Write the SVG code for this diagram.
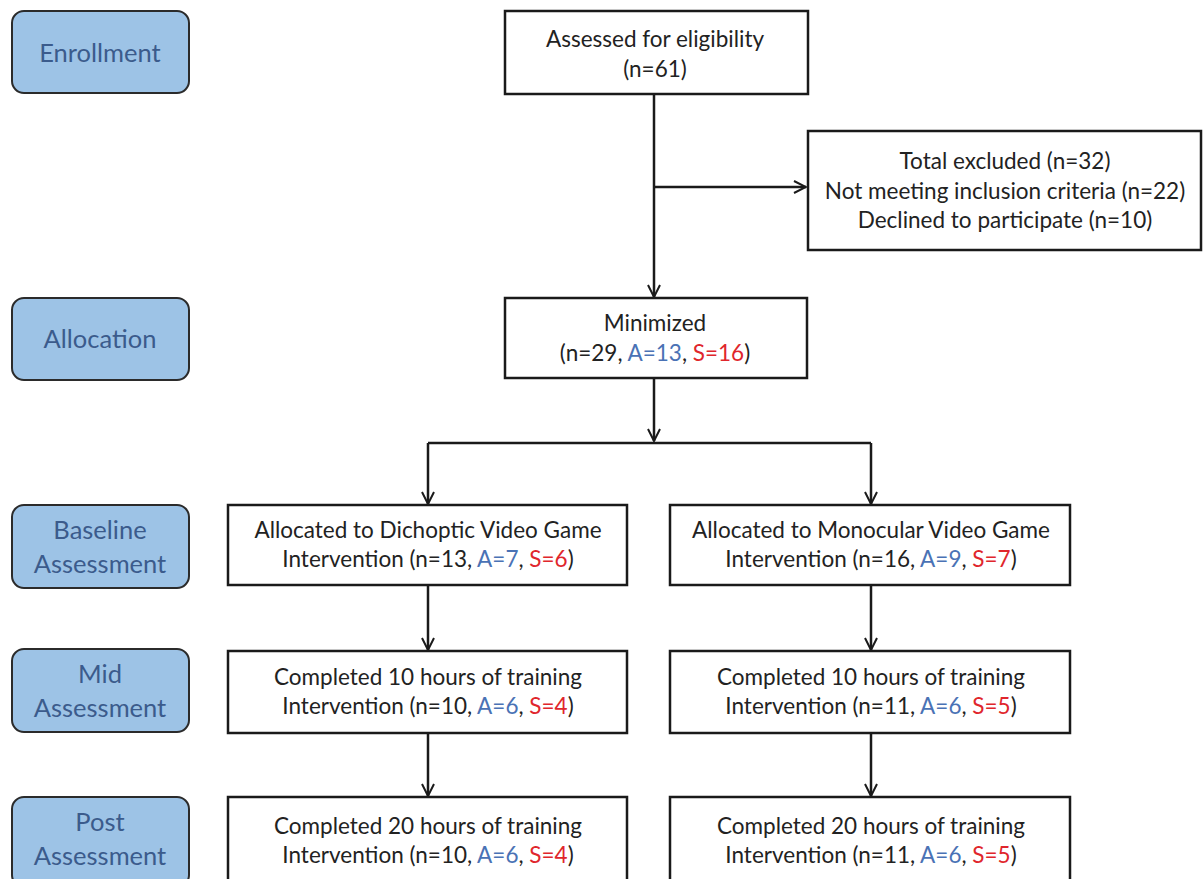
<svg xmlns="http://www.w3.org/2000/svg" width="1203" height="879" viewBox="0 0 1203 879">
<style>
.stage rect{fill:#9DC3E6;stroke:#2b2b2b;stroke-width:2}
.stage text{font-family:Lato,"Open Sans",sans-serif;font-size:25.5px;fill:#3B5B8C;text-anchor:middle}
.box rect{fill:#fff;stroke:#1a1a1a;stroke-width:2.5}
.box text{font-family:Lato,"Open Sans",sans-serif;font-size:22.5px;fill:#222;text-anchor:middle}
.a{fill:#4A72B5}
.s{fill:#E0262C}
.conn line,.conn path{stroke:#1a1a1a;stroke-width:2.5;fill:none}
</style>
<defs>
<marker id="arr" viewBox="0 0 14 14" refX="13" refY="7" markerWidth="14" markerHeight="14" markerUnits="userSpaceOnUse" orient="auto">
<path d="M1,1 L13,7 L1,13" fill="none" stroke="#1a1a1a" stroke-width="2"/>
</marker>
</defs>
<rect width="1203" height="879" fill="#fff"/>
<g id="stage-enrollment" class="stage"><rect x="12" y="11" width="177" height="82" rx="12"/><text x="100" y="62">Enrollment</text></g>
<g id="stage-allocation" class="stage"><rect x="12" y="298" width="177" height="82" rx="12"/><text x="100" y="348">Allocation</text></g>
<g id="stage-baseline" class="stage"><rect x="12" y="505" width="177" height="83" rx="12"/><text x="100" y="539">Baseline</text><text x="100" y="573">Assessment</text></g>
<g id="stage-mid" class="stage"><rect x="12" y="649" width="177" height="83" rx="12"/><text x="100" y="683">Mid</text><text x="100" y="717">Assessment</text></g>
<g id="stage-post" class="stage"><rect x="12" y="797" width="177" height="90" rx="12"/><text x="100" y="831">Post</text><text x="100" y="865">Assessment</text></g>

<g class="conn" id="connectors">
<line x1="654" y1="94" x2="654" y2="297" marker-end="url(#arr)"/>
<line x1="654" y1="187" x2="806" y2="187" marker-end="url(#arr)"/>
<line x1="654" y1="378" x2="654" y2="441" marker-end="url(#arr)"/>
<line x1="428" y1="443" x2="871" y2="443"/>
<line x1="428" y1="443" x2="428" y2="504" marker-end="url(#arr)"/>
<line x1="871" y1="443" x2="871" y2="504" marker-end="url(#arr)"/>
<line x1="428" y1="586" x2="428" y2="650" marker-end="url(#arr)"/>
<line x1="871" y1="586" x2="871" y2="650" marker-end="url(#arr)"/>
<line x1="428" y1="733" x2="428" y2="796" marker-end="url(#arr)"/>
<line x1="871" y1="733" x2="871" y2="796" marker-end="url(#arr)"/>
</g>

<g id="assessed" class="box"><rect x="505" y="11" width="303" height="83"/><text x="655" y="47">Assessed for eligibility</text><text x="655" y="77">(n=61)</text></g>
<g id="excluded" class="box"><rect x="808" y="131" width="393" height="119"/><text x="1005" y="169">Total excluded (n=32)</text><text x="1005" y="199">Not meeting inclusion criteria (n=22)</text><text x="1005" y="228">Declined to participate (n=10)</text></g>
<g id="minimized" class="box"><rect x="505" y="298" width="302" height="80"/><text x="655" y="331">Minimized</text><text x="655" y="361">(n=29, <tspan class="a">A=13</tspan>, <tspan class="s">S=16</tspan>)</text></g>
<g id="dichoptic" class="box"><rect x="228" y="505" width="399" height="80"/><text x="428" y="538">Allocated to Dichoptic Video Game</text><text x="428" y="567">Intervention (n=13, <tspan class="a">A=7</tspan>, <tspan class="s">S=6</tspan>)</text></g>
<g id="monocular" class="box"><rect x="670" y="505" width="400" height="80"/><text x="871" y="538">Allocated to Monocular Video Game</text><text x="871" y="567">Intervention (n=16, <tspan class="a">A=9</tspan>, <tspan class="s">S=7</tspan>)</text></g>
<g id="mid-left" class="box"><rect x="228" y="651" width="399" height="82"/><text x="428" y="685">Completed 10 hours of training</text><text x="428" y="714">Intervention (n=10, <tspan class="a">A=6</tspan>, <tspan class="s">S=4</tspan>)</text></g>
<g id="mid-right" class="box"><rect x="670" y="651" width="400" height="82"/><text x="871" y="685">Completed 10 hours of training</text><text x="871" y="714">Intervention (n=11, <tspan class="a">A=6</tspan>, <tspan class="s">S=5</tspan>)</text></g>
<g id="post-left" class="box"><rect x="228" y="797" width="399" height="90"/><text x="428" y="834">Completed 20 hours of training</text><text x="428" y="863">Intervention (n=10, <tspan class="a">A=6</tspan>, <tspan class="s">S=4</tspan>)</text></g>
<g id="post-right" class="box"><rect x="670" y="797" width="400" height="90"/><text x="871" y="834">Completed 20 hours of training</text><text x="871" y="863">Intervention (n=11, <tspan class="a">A=6</tspan>, <tspan class="s">S=5</tspan>)</text></g>
</svg>
